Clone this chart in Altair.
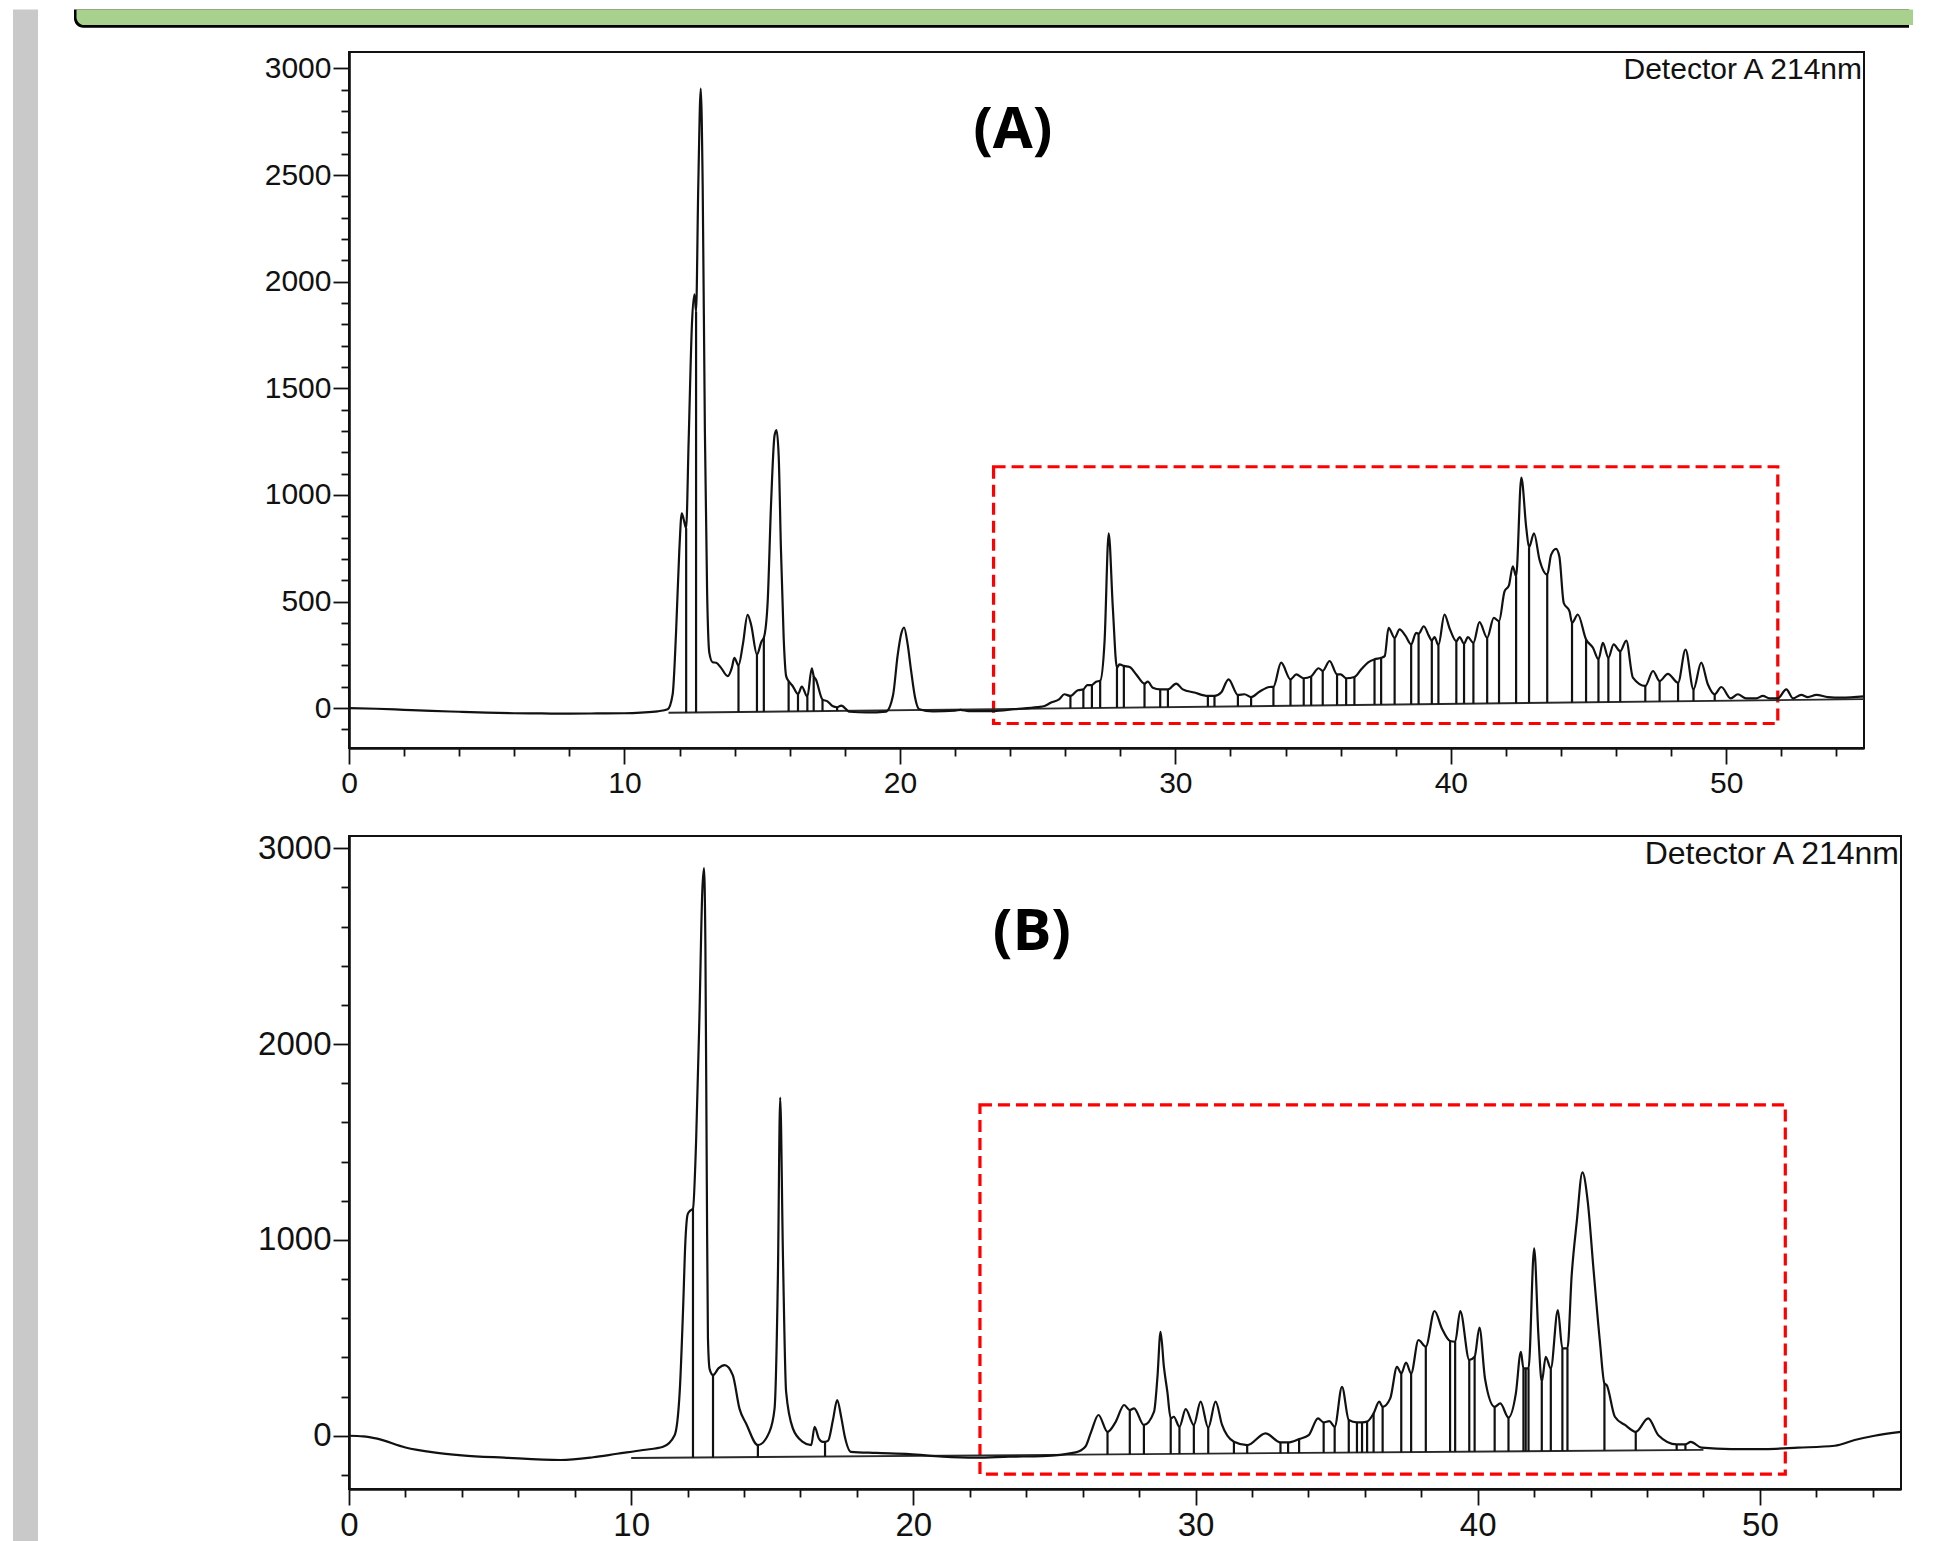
import altair as alt
import pandas as pd

# ---------------- Panel A ----------------
A_time = [0.0, 1.0, 2.0, 3.0, 4.0, 5.0, 6.0, 7.0, 8.0, 9.0, 10.0, 10.6, 11.2, 11.57, 11.75, 11.87, 11.99, 12.08, 12.16, 12.24,
          12.33, 12.45, 12.54, 12.6, 12.68, 12.77, 12.84, 12.92, 13.0, 13.08, 13.2, 13.33, 13.5, 13.75, 13.9, 13.99, 14.14, 14.3,
          14.47, 14.6, 14.81, 14.98, 15.06, 15.2, 15.32, 15.45, 15.52, 15.6, 15.68, 15.78, 15.87, 15.96, 16.1, 16.3, 16.44,
          16.64, 16.8, 16.87, 16.95, 17.19, 17.37, 17.55, 17.72, 17.87, 18.18, 18.8, 19.5, 19.75, 19.92, 20.05, 20.15, 20.28,
          20.41, 20.55, 20.7, 21.2, 22.0, 22.2, 22.5, 23.4, 24.16, 25.0, 25.25, 25.49, 25.79, 25.97, 26.19, 26.46, 26.66, 26.8,
          26.97, 27.12, 27.27, 27.43, 27.58, 27.73, 27.88, 27.97, 28.13, 28.34, 28.58, 28.88, 29.0, 29.18, 29.45, 29.73, 30.03,
          30.27, 30.69, 31.18, 31.42, 31.66, 31.93, 32.27, 32.51, 32.75, 33.05, 33.42, 33.56, 33.84, 34.18, 34.39, 34.66, 34.93,
          35.2, 35.35, 35.6, 35.87, 36.0, 36.2, 36.5, 36.75, 37.0, 37.23, 37.47, 37.6, 37.74, 37.96, 38.14, 38.35, 38.56, 38.74,
          38.83, 39.02, 39.2, 39.31, 39.41, 39.55, 39.77, 39.95, 40.2, 40.32, 40.48, 40.62, 40.82, 41.04, 41.32, 41.56, 41.75,
          41.95, 42.11, 42.25, 42.37, 42.56, 42.74, 42.84, 43.02, 43.22, 43.5, 43.64, 43.82, 43.94, 44.1, 44.31, 44.4, 44.61,
          44.91, 45.16, 45.36, 45.52, 45.72, 45.91, 46.15, 46.37, 46.61, 47.06, 47.34, 47.58, 47.88, 48.25, 48.52, 48.81, 49.09,
          49.33, 49.58, 49.82, 50.16, 50.42, 50.72, 51.09, 51.33, 51.57, 51.87, 52.18, 52.42, 52.72, 52.96, 53.27, 53.69, 54.18,
          55.0]
A_signal = [0, -3, -8, -13, -17, -21, -24, -25, -26, -25, -24, -21, -15, -5, 65, 345, 735, 914, 880, 844,
            1250, 1800, 1940, 1860, 2450, 2905, 2450, 1300, 550, 260, 215, 213, 190, 150, 190, 236, 200, 300,
            438, 390, 252, 314, 330, 500, 950, 1280, 1304, 1180, 750, 330, 150, 127, 105, 66, 101,
            54, 187, 150, 134, 40, 32, 10, 4, 12, -17, -20, -16, 60, 250, 350, 378, 300,
            172, 50, -5, -15, -12, -8, -14, -14, -5, 5, 10, 26, 42, 65, 57, 84, 88, 108,
            108, 124, 128, 314, 820, 470, 189, 205, 198, 193, 158, 115, 124, 96, 88, 88, 115,
            88, 73, 57, 57, 73, 135, 62, 65, 52, 77, 99, 100, 213, 135, 158, 140, 149,
            187, 175, 221, 158, 158, 140, 146, 182, 215, 229, 236, 244, 376, 330, 369, 340, 299, 353,
            349, 384, 340, 317, 333, 295, 439, 376, 314, 333, 302, 333, 306, 403, 330, 423, 408,
            548, 576, 665, 618, 1081, 844, 754, 820, 696, 626, 719, 747, 711, 493, 454, 400, 439,
            322, 283, 229, 306, 236, 299, 267, 317, 143, 104, 174, 127, 161, 119, 275, 88, 213,
            112, 65, 99, 46, 65, 46, 46, 57, 46, 46, 88, 46, 62, 52, 62, 52, 49,
            55]
A_drop_time = [12.24, 12.6, 14.14, 14.81, 15.06, 15.96, 16.3, 16.64, 16.87, 17.19, 17.72,
               26.19, 26.66, 26.97, 27.27, 27.88, 28.13, 28.88, 29.45, 29.73,
               31.18, 31.42, 32.27, 32.75, 33.56,
               34.18, 34.66, 34.93, 35.35, 35.87, 36.2, 36.5,
               37.23, 37.47, 37.96, 38.56, 38.83, 39.31, 39.55,
               40.2, 40.48, 40.82, 41.32, 41.75, 42.37, 42.84, 43.5,
               44.4, 44.91, 45.36, 45.72, 46.15,
               47.06, 47.58, 48.25, 48.81, 49.58]
A_drop_bottom = [-21, -21, -18, -17, -17, -16, -15, -15, -14, -14, -13,
                 0, 0, 1, 1, 2, 2, 3, 4, 5,
                 7, 7, 8, 9, 10,
                 11, 12, 12, 13, 14, 14, 15,
                 16, 16, 17, 18, 18, 19, 19,
                 20, 21, 21, 22, 22, 23, 24, 25,
                 26, 27, 28, 28, 29,
                 30, 31, 32, 33, 34]
A_base_time = [11.6, 55.0]
A_base_signal = [-22, 42]
A_box = [23.4, 51.87, -72, 1132]

# ---------------- Panel B ----------------
B_time = [0.0, 0.5, 1.0, 2.0, 3.0, 4.0, 5.5, 7.5, 8.65, 9.5, 10.42, 11.13, 11.54, 11.72, 11.84, 11.92, 12.0, 12.08, 12.19,
          12.3, 12.42, 12.52, 12.58, 12.63, 12.68, 12.72, 12.78, 12.9, 13.1, 13.31, 13.6, 13.84, 14.08, 14.49, 14.9, 15.08,
          15.2, 15.28, 15.38, 15.49, 15.73, 16.08, 16.38, 16.5, 16.65, 16.79, 16.87, 16.98, 17.15, 17.3, 17.45, 17.56, 17.79,
          18.68, 19.86, 21.04, 22.22, 23.4, 24.57, 25.75, 26.1, 26.3, 26.56, 26.88, 27.17, 27.47, 27.67, 27.82, 28.17, 28.53,
          28.65, 28.76, 28.88, 29.0, 29.12, 29.23, 29.43, 29.65, 29.94, 30.18, 30.45, 30.71, 30.94, 31.36, 31.83, 32.48, 33.01,
          33.28, 33.67, 34.01, 34.34, 34.54, 34.74, 34.93, 35.19, 35.43, 35.72, 35.9, 36.08, 36.31, 36.51, 36.63, 36.9, 37.14,
          37.29, 37.46, 37.64, 37.9, 38.16, 38.47, 38.73, 39.02, 39.2, 39.38, 39.7, 39.89, 40.06, 40.26, 40.6, 40.8, 41.09,
          41.35, 41.53, 41.62, 41.7, 41.8, 42.0, 42.15, 42.27, 42.41, 42.59, 42.84, 43.0, 43.18, 43.33, 43.51, 43.71, 43.9,
          44.1, 44.33, 44.49, 44.57, 44.86, 45.22, 45.6, 46.04, 46.4, 47.05, 47.36, 47.55, 47.93, 48.99, 50.17, 51.35, 52.65,
          53.36, 54.06, 55.0]
B_signal = [0, -3, -15, -60, -85, -100, -112, -124, -110, -92, -73, -56, 3, 225, 650, 990, 1130, 1148, 1160,
            1500, 2150, 2780, 2899, 2500, 1300, 500, 340, 310, 345, 361, 310, 137, 60, -48, 20, 137,
            821, 1727, 905, 225, 37, -31, -48, 46, -14, -31, -31, -25, 80, 182, 90, 3, -82,
            -88, -94, -107, -112, -107, -104, -85, -55, 20, 106, 20, 71, 157, 131, 140, 55, 123,
            300, 531, 350, 225, 89, 97, 46, 136, 55, 174, 41, 174, 55, -31, -48, 12, -34,
            -34, -17, 3, 89, 68, 75, 46, 250, 80, 68, 68, 72, 114, 174, 148, 191, 352,
            318, 374, 318, 489, 455, 637, 548, 484, 480, 637, 387, 403, 552, 290, 148, 165, 93,
            215, 428, 344, 344, 344, 957, 514, 276, 403, 344, 642, 446, 446, 821, 1093, 1345, 1195,
            855, 480, 267, 259, 97, 55, 20, 89, 3, -44, -44, -31, -61, -68, -68, -61, -51,
            -22, 0, 20]
B_drop_time = [12.19, 12.9, 14.49, 16.87,
               26.88, 27.67, 28.17, 29.12, 29.43, 29.94, 30.45, 31.36, 31.83,
               33.01, 33.28, 33.67, 34.54, 34.93, 35.43, 35.72, 35.9, 36.08, 36.31, 36.63,
               37.29, 37.64, 38.16, 39.02, 39.2, 39.7, 39.89,
               40.6, 41.09, 41.62, 41.7, 41.8, 42.27, 42.59, 43.0, 43.18,
               44.49, 45.6, 47.05, 47.36]
B_drop_bottom = [-112, -111, -110, -107,
                 -96, -95, -94, -93, -93, -92, -92, -91, -90,
                 -89, -89, -88, -87, -87, -86, -86, -86, -85, -85, -85,
                 -84, -84, -83, -82, -82, -81, -81,
                 -80, -80, -79, -79, -79, -79, -78, -78, -77,
                 -76, -75, -73, -73]
B_base_time = [10.0, 48.0]
B_base_signal = [-114, -72]
B_box = [22.36, 50.9, -196, 1690]

X_TICKS = list(range(0, 55, 2))
A_Y_TICKS = list(range(-100, 3001, 100))
B_Y_TICKS = list(range(-200, 3001, 200))

FONT = "Liberation Sans"
INK = "#111111"


def axis(values, major, fs, pad):
    test = f"datum.value % {major} === 0"
    return alt.Axis(
        values=values, format="d",
        labelExpr=f"{test} ? datum.label : ''",
        labelFontSize={"condition": {"test": test, "value": fs}, "value": 0},
        tickSize={"condition": {"test": test, "value": 16}, "value": 8},
        tickWidth=1.8, tickColor=INK, domainColor=INK, domainWidth=2.6,
        labelFont=FONT, labelColor=INK, labelPadding=pad,
        labelFlush=False, labelOverlap=False, grid=False, title=None)


def panel(t, v, drop_t, drop_b, base_t, base_v, box, ydom, yticks, ymajor, fs,
          tag, tag_xy, tag_fs, det_xy, det_fs):
    xs = alt.Scale(domain=[0, 55], nice=False, zero=False)
    ys = alt.Scale(domain=ydom, nice=False, zero=False)
    ax = axis(X_TICKS, 10, fs, 4)
    ay = axis(yticks, ymajor, fs, 2)
    X = alt.X("t:Q", scale=xs, axis=ax)
    Y = alt.Y("v:Q", scale=ys, axis=ay)
    lookup = dict(zip(t, v))
    curve = pd.DataFrame({"t": t, "v": v})
    drops = pd.DataFrame({"t": drop_t, "v": [lookup[x] for x in drop_t], "b": drop_b})
    base = pd.DataFrame({"t": base_t, "v": base_v})
    boxdf = pd.DataFrame({"t": [box[0]], "t2": [box[1]], "v": [box[2]], "v2": [box[3]]})
    tagdf = pd.DataFrame({"t": [tag_xy[0]], "v": [tag_xy[1]], "s": [tag]})
    detdf = pd.DataFrame({"t": [det_xy[0]], "v": [det_xy[1]], "s": ["Detector A 214nm"]})

    red = alt.Chart(boxdf).mark_rect(filled=False, color="#ff0000", strokeWidth=3.2, strokeDash=[12, 6]).encode(
        x=X, x2="t2:Q", y=Y, y2="v2:Q")
    bl = alt.Chart(base).mark_line(color="#2a2a2a", strokeWidth=1.9).encode(x=X, y=Y)
    line = alt.Chart(curve).mark_line(color="#111111", strokeWidth=2.2, interpolate="monotone").encode(x=X, y=Y)
    dl = alt.Chart(drops).mark_rule(color="#111111", strokeWidth=2.2).encode(x=X, y=Y, y2="b:Q")
    tg = alt.Chart(tagdf).mark_text(
        font="Open Sans", fontWeight="bold", fontSize=tag_fs, align="center",
        baseline="alphabetic", color="#000000").encode(x=X, y=Y, text="s:N")
    det = alt.Chart(detdf).mark_text(
        font=FONT, fontSize=det_fs, align="right", baseline="alphabetic",
        color=INK, dx=-2).encode(x=X, y=Y, text="s:N")
    return [red, bl, line, dl, tg, det]


one = pd.DataFrame({"k": [0]})
gray_bar = alt.Chart(one).mark_rect(color="#c9c9c9").encode(
    x=alt.value(-336), x2=alt.value(-311), y=alt.value(-42.6), y2=alt.value(1492))
head_edge = alt.Chart(one).mark_rect(color="#000000", cornerRadiusBottomLeft=22).encode(
    x=alt.value(-275), x2=alt.value(1560), y=alt.value(-42.6), y2=alt.value(-24.2))
head_fill = alt.Chart(one).mark_rect(color="#a9d18e", cornerRadiusBottomLeft=20).encode(
    x=alt.value(-272.5), x2=alt.value(1564), y=alt.value(-42.6), y2=alt.value(-27.0))

A_layers = panel(A_time, A_signal, A_drop_time, A_drop_bottom, A_base_time, A_base_signal, A_box,
                 [-187, 3077], A_Y_TICKS, 500, 30, "(A)", (24.1, 2628), 58, (55, 2951), 30)
B_layers = panel(B_time, B_signal, B_drop_time, B_drop_bottom, B_base_time, B_base_signal, B_box,
                 [-272, 3063], B_Y_TICKS, 1000, 33, "(B)", (24.2, 2480), 58, (55, 2918), 32)

chart_A = alt.layer(gray_bar, head_edge, head_fill, *A_layers).properties(width=1515, height=696)
chart_B = alt.layer(*B_layers).properties(width=1552, height=653)

chart = alt.vconcat(chart_A, chart_B, spacing=88, bounds="flush").properties(
    padding={"left": 4, "top": 0, "right": 0, "bottom": 0}
).configure_view(stroke=INK, strokeWidth=2)

chart.save("out.html", embed_options={"renderer": "svg", "actions": False})
